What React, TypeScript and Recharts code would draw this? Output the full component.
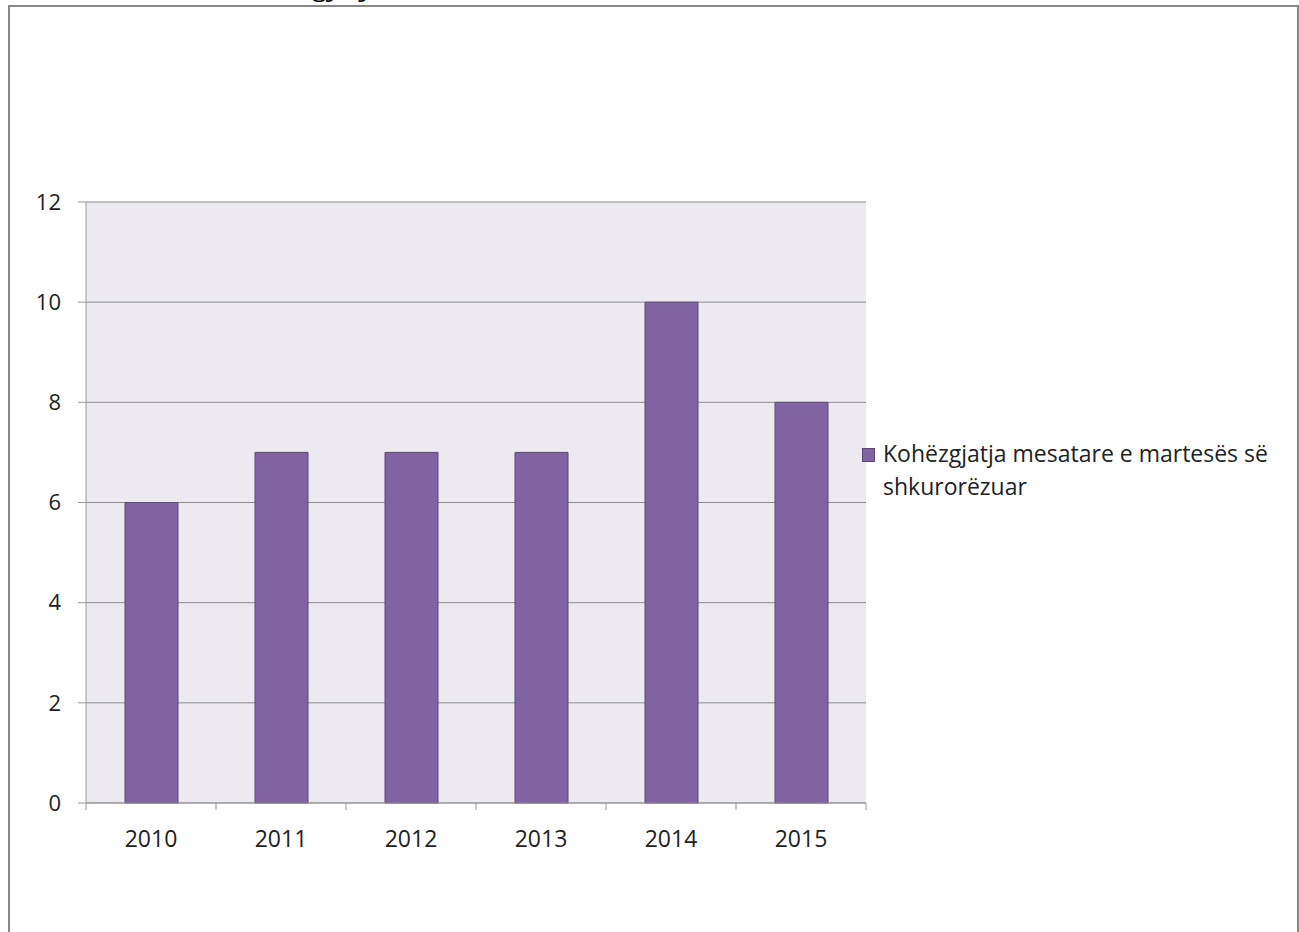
import React from "react";
import { BarChart, Bar, XAxis, YAxis, CartesianGrid } from "recharts";

const years = ["2010", "2011", "2012", "2013", "2014", "2015"];
const durations = [6, 7, 7, 7, 10, 8];
const yTicks = [0, 2, 4, 6, 8, 10, 12];
const seriesName = "Kohëzgjatja mesatare e martesës së shkurorëzuar";

const data = years.map((year, i) => ({ year, value: durations[i] }));

const CHART_W = 1287;
const CHART_H = 925;
const MARGIN = { top: 195, right: 431, bottom: 0, left: 0 };
const Y_AXIS_W = 76;
const PLOT_W = CHART_W - MARGIN.left - MARGIN.right - Y_AXIS_W;
const FONT = "'Open Sans', sans-serif";

function XTick(props: any) {
    const { x, y, payload, index, visibleTicksCount } = props;
    const band = PLOT_W / years.length;
    const left = x - band / 2;
    const right = x + band / 2;
    return (
        <g>
            <line x1={left} y1={y} x2={left} y2={y + 7} stroke="#999" />
            {index === visibleTicksCount - 1 && (
                <line x1={right} y1={y} x2={right} y2={y + 7} stroke="#999" />
            )}
            <text x={x} y={y + 28} dy="0.71em" textAnchor="middle" fill="#222" fontSize={23} fontFamily={FONT}>
                {payload.value}
            </text>
        </g>
    );
}

function LegendBox() {
    return (
        <div style={{ display: "flex", alignItems: "flex-start", fontFamily: FONT, fontSize: 23, color: "#222", lineHeight: "33px" }}>
            <span style={{ display: "inline-block", width: 13, height: 14, background: "#8064A2", border: "1px solid #5C4776", boxSizing: "border-box", marginTop: 11, marginRight: 8, flexShrink: 0 }} />
            <span>{seriesName}</span>
        </div>
    );
}

export default function App() {
    return (
        <div style={{ position: "absolute", left: 0, top: 0, width: 1299, height: 932, overflow: "hidden", background: "#fff" }}>
            <div style={{ position: "absolute", left: 236, top: -27, fontFamily: "'Liberation Serif', serif", fontWeight: "bold", fontSize: 28, lineHeight: "28px", color: "#000", whiteSpace: "nowrap" }}>
                Kohëzgjatja
            </div>
            <div style={{ position: "absolute", left: 8, top: 5, width: 1287, height: 940, border: "2px solid #878787", background: "transparent" }}>
                <BarChart width={CHART_W} height={CHART_H} data={data} margin={MARGIN}>
                    <CartesianGrid vertical={false} stroke="#8c8c8c" fill="#ECEAF0" fillOpacity={1} />
                    <XAxis
                        dataKey="year"
                        height={129}
                        stroke="#999"
                        tickLine={false}
                        tickSize={0}
                        tickMargin={0}
                        tick={<XTick />}
                    />
                    <YAxis
                        width={Y_AXIS_W}
                        domain={[0, 12]}
                        ticks={yTicks}
                        stroke="#999"
                        tickSize={8}
                        tickMargin={17}
                        tick={{ fill: "#222", fontSize: 22, fontFamily: FONT }}
                    />
                    <Bar dataKey="value" name={seriesName} barSize={53} fill="#8064A2" stroke="#5C4776" strokeWidth={1} isAnimationActive={false} />
                </BarChart>
                <div style={{ position: "absolute", left: 852, top: 430, width: 430 }}>
                    <LegendBox />
                </div>
            </div>
        </div>
    );
}
